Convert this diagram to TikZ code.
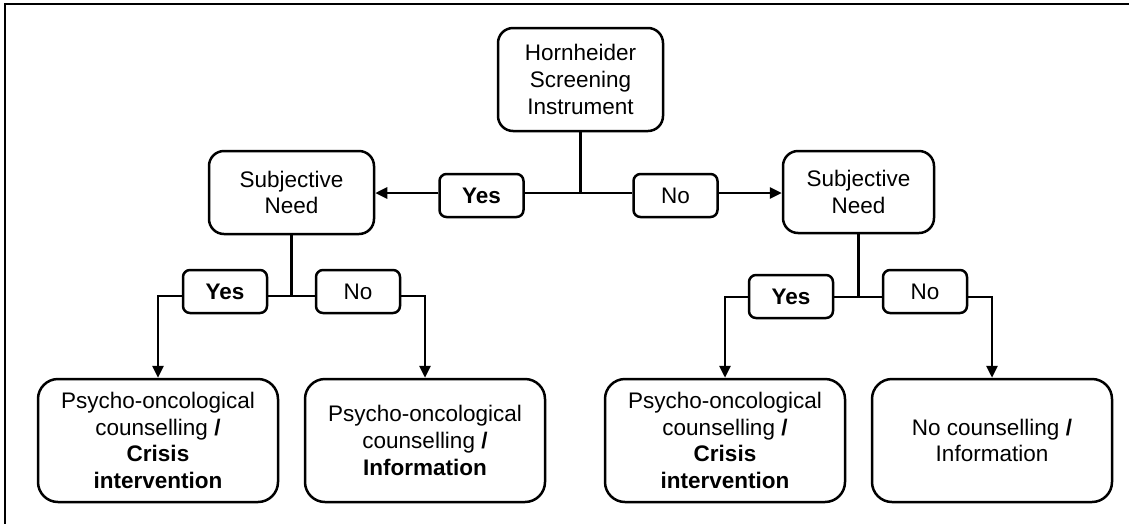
\documentclass[tikz,border=0pt]{standalone}
\usepackage{fontspec}
\setmainfont{Liberation Sans}
\usetikzlibrary{arrows.meta}
\begin{document}
\begin{tikzpicture}[x=1pt,y=-1pt,
  every node/.style={font=\fontsize{22.5pt}{26.7pt}\selectfont, align=center, inner sep=0pt},
  bigbox/.style={draw, line width=2.5pt, rounded corners=15pt},
  lblbox/.style={draw, line width=2.5pt, rounded corners=7pt, minimum width=84pt, minimum height=43pt},
  endbox/.style={draw, line width=2.5pt, rounded corners=20pt, minimum width=240pt, minimum height=123pt},
  conn/.style={line width=2.8pt},
  arr/.style={line width=2.8pt, -{Triangle[length=12pt,width=11pt]}}
]
\useasboundingbox (0,0) rectangle (1129,523);
\draw[line width=2pt] (5,530) -- (5,4) -- (1135,4);

\node[bigbox, minimum width=165pt, minimum height=103pt] (H) at (580.5,79.5) {Hornheider\\Screening\\Instrument};
\node[bigbox, minimum width=165pt, minimum height=83pt] (snL) at (291.5,192.5) {Subjective\\Need};
\node[bigbox, minimum width=151pt, minimum height=82pt] (snR) at (858.5,192) {Subjective\\Need};

\node[lblbox] (yesT) at (481.5,195.5) {\textbf{Yes}};
\node[lblbox] (noT) at (675.5,195.5) {No};
\node[lblbox] (yesL) at (225,291.5) {\textbf{Yes}};
\node[lblbox] (noL) at (358,291.5) {No};
\node[lblbox] (yesR) at (791,296.5) {\textbf{Yes}};
\node[lblbox] (noR) at (925,291.5) {No};

\node[endbox] (b1) at (158,440.5) {Psycho-oncological\\counselling \textbf{/}\\\textbf{Crisis}\\\textbf{intervention}};
\node[endbox] (b2) at (425,440.5) {Psycho-oncological\\counselling \textbf{/}\\\textbf{Information}};
\node[endbox] (b3) at (725,440.5) {Psycho-oncological\\counselling \textbf{/}\\\textbf{Crisis}\\\textbf{intervention}};
\node[endbox] (b4) at (992,440.5) {No counselling \textbf{/}\\Information};

\coordinate (j1) at (580.5,193);
\coordinate (j2) at (291.5,296);
\coordinate (j3) at (858.5,297);

% top level
\draw[conn] (H.south) -- (j1);
\draw[conn] (j1 -| yesT.east) -- (j1 -| noT.west);
\draw[arr] (j1 -| yesT.west) -- (j1 -| snL.east);
\draw[arr] (j1 -| noT.east) -- (j1 -| snR.west);

% left branch
\draw[conn] (snL.south) -- (j2);
\draw[conn] (j2 -| yesL.east) -- (j2 -| noL.west);
\draw[arr] (j2 -| yesL.west) -| (b1.north);
\draw[arr] (j2 -| noL.east) -| (b2.north);

% right branch
\draw[conn] (snR.south) -- (j3);
\draw[conn] (j3 -| yesR.east) -- (j3 -| noR.west);
\draw[arr] (j3 -| yesR.west) -| (b3.north);
\draw[arr] (j3 -| noR.east) -| (b4.north);
\end{tikzpicture}
\end{document}
